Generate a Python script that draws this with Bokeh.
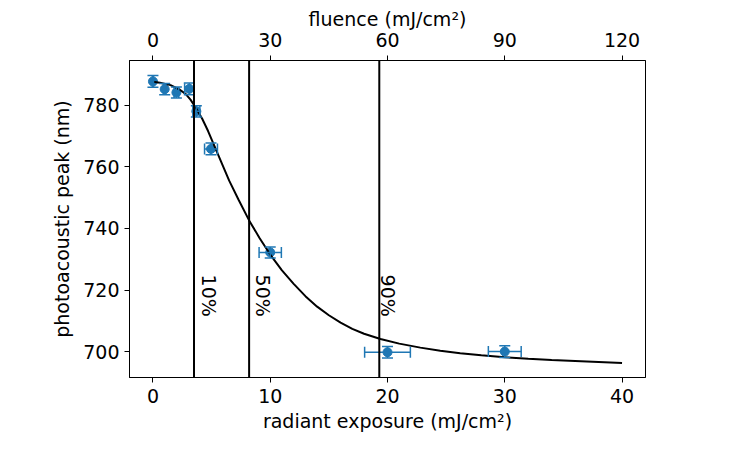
import math
from bokeh.plotting import figure
from bokeh.models import Range1d, LinearAxis, FixedTicker, Whisker, TeeHead, ColumnDataSource, Span
from bokeh.core.properties import value
from bokeh.embed import file_html
from bokeh.resources import INLINE

# measured points
exposure = [0.0, 1.0, 2.0, 3.1, 3.7, 4.95, 10.0, 20.0, 30.0]
peak = [787.7, 785.2, 784.1, 785.3, 778.0, 765.8, 732.2, 699.8, 700.0]
exposure_err = [0.05, 0.1, 0.2, 0.4, 0.3, 0.55, 0.95, 1.95, 1.4]
peak_err = [1.9, 1.8, 1.8, 1.9, 1.8, 1.9, 1.8, 1.9, 1.9]

# fitted curve
fit_exposure = [0.0, 0.6, 1.5, 2.3, 2.8, 3.2, 3.6, 4.2, 4.7, 5.3, 6.5, 7.3, 8.2, 9.1, 10.0,
                11.0, 12.0, 13.0, 14.0, 15.0, 16.0, 17.0, 18.0, 19.4, 21.0, 22.8, 24.5,
                26.2, 28.0, 30.0, 32.0, 34.0, 37.0, 40.0]
fit_peak = [787.6, 787.3, 786.5, 785.0, 783.6, 781.8, 779.5, 775.6, 771.6, 766.2, 755.5, 749.3,
            742.6, 736.8, 731.5, 726.4, 722.0, 718.0, 714.6, 711.8, 709.4, 707.4, 705.8,
            704.1, 702.6, 701.3, 700.3, 699.5, 698.8, 698.2, 697.7, 697.3, 696.8, 696.3]

# threshold lines and labels
threshold_exposure = [3.5, 8.2, 19.3]
threshold_labels = ["10%", "50%", "90%"]
label_exposure = [3.85, 8.45, 19.1]
label_peak = [725.0, 725.0, 725.0]

x_ticks = [0, 10, 20, 30, 40]
y_ticks = [700, 720, 740, 760, 780]
fluence_ticks = [0, 30, 60, 90, 120]

BLUE = "#1f77b4"
FONT = "DejaVu Sans"
FS = "19px"

p = figure(frame_width=516, frame_height=317,
           x_range=Range1d(-2, 42), y_range=Range1d(691.6, 794.5),
           output_backend="svg", toolbar_location=None,
           min_border_left=129, min_border_right=93, min_border_top=60, min_border_bottom=75,
           x_axis_label="radiant exposure (mJ/cm²)", y_axis_label="photoacoustic peak (nm)")
p.extra_x_ranges = {"fluence": Range1d(-6, 126)}
top = LinearAxis(x_range_name="fluence", ticker=FixedTicker(ticks=fluence_ticks),
                 axis_label="fluence (mJ/cm²)")
p.add_layout(top, "above")

bottom = p.below[0]
left = p.left[0]
bottom.ticker = FixedTicker(ticks=x_ticks)
left.ticker = FixedTicker(ticks=y_ticks)
p.grid.visible = False
p.outline_line_color = "black"
p.outline_line_width = 1
p.background_fill_color = "white"
p.border_fill_color = "white"

for ax in (bottom, left, top):
    ax.axis_label_text_font = FONT
    ax.axis_label_text_font_size = FS
    ax.axis_label_text_font_style = "normal"
    ax.axis_label_text_color = "black"
    ax.major_label_text_font = FONT
    ax.major_label_text_font_size = FS
    ax.major_label_text_color = "black"
    ax.major_tick_in = 0
    ax.major_tick_out = 5
    ax.major_tick_line_color = "black"
    ax.minor_tick_in = 0
    ax.minor_tick_out = 0
    ax.axis_line_color = "black"

bottom.major_label_standoff = 6
bottom.axis_label_standoff = 4
top.major_label_standoff = 9
top.axis_label_standoff = 0
left.major_label_standoff = 5
left.axis_label_standoff = 7

src = ColumnDataSource(dict(
    x=exposure, y=peak,
    ylo=[a - b for a, b in zip(peak, peak_err)], yhi=[a + b for a, b in zip(peak, peak_err)],
    xlo=[a - b for a, b in zip(exposure, exposure_err)], xhi=[a + b for a, b in zip(exposure, exposure_err)],
))

wy = Whisker(source=src, base="x", lower="ylo", upper="yhi", dimension="height",
             line_color=BLUE, line_width=1.5,
             lower_head=TeeHead(size=11, line_color=BLUE, line_width=1.5),
             upper_head=TeeHead(size=11, line_color=BLUE, line_width=1.5))
wx = Whisker(source=src, base="y", lower="xlo", upper="xhi", dimension="width",
             line_color=BLUE, line_width=1.5,
             lower_head=TeeHead(size=11, line_color=BLUE, line_width=1.5),
             upper_head=TeeHead(size=11, line_color=BLUE, line_width=1.5))
wy.level = "glyph"
wx.level = "glyph"
p.add_layout(wy)
p.add_layout(wx)

p.scatter("x", "y", source=src, size=9, color=BLUE, line_color=BLUE)

p.line(fit_exposure, fit_peak, line_color="black", line_width=2)

for t in threshold_exposure:
    p.add_layout(Span(location=t, dimension="height", line_color="black", line_width=2))

p.text(x=label_exposure, y=label_peak, text=threshold_labels, angle=-math.pi / 2,
       text_font=value(FONT), text_font_size=FS, text_color="black",
       text_align="left", text_baseline="bottom")

open("out.html", "w").write(file_html(p, INLINE))
